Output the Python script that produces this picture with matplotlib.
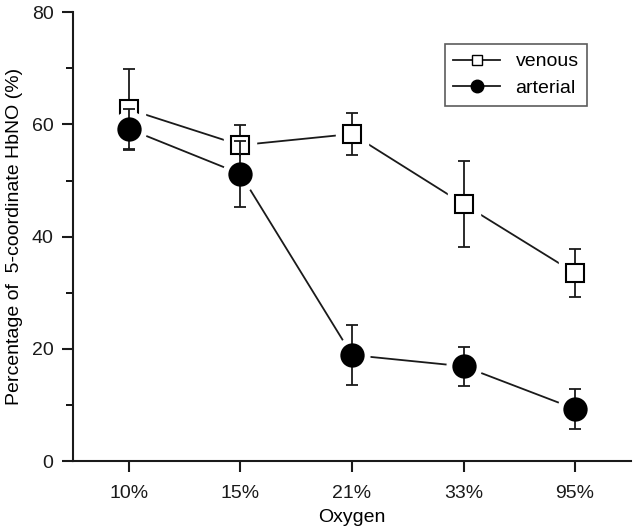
import matplotlib
matplotlib.use("Agg")
import matplotlib.pyplot as plt
import numpy as np
from matplotlib.lines import Line2D

plt.rcParams['font.family'] = ['Liberation Sans', 'DejaVu Sans']

categories = ["10%", "15%", "21%", "33%", "95%"]
venous = [62.7, 56.3, 58.3, 45.8, 33.5]
venous_err = [7.2, 3.6, 3.8, 7.6, 4.3]
arterial = [59.2, 51.2, 18.9, 16.9, 9.3]
arterial_err = [3.5, 5.9, 5.4, 3.5, 3.5]

x = np.arange(len(categories))

fig = plt.figure(figsize=(6.36, 5.30), dpi=100)
ax = fig.add_axes([0.1148, 0.130, 0.8772, 0.847])

lc = '#1a1a1a'

def draw(vals, errs, marker, ms, mfc, zbase):
    ax.plot(x, vals, '-', color=lc, lw=1.3, zorder=zbase)
    ax.plot(x, vals, linestyle='none', marker=marker, ms=ms + 9, mfc='white',
            mec='white', zorder=zbase + 0.1)
    ax.errorbar(x, vals, yerr=errs, fmt='none', ecolor=lc, elinewidth=1.3,
                capsize=4.5, capthick=1.3, zorder=zbase + 0.2)
    ax.plot(x, vals, linestyle='none', marker=marker, ms=ms, mfc=mfc,
            mec='black', mew=1.5, zorder=zbase + 0.3)

draw(venous, venous_err, 's', 13.5, 'white', 2)
draw(arterial, arterial_err, 'o', 16, 'black', 3)

h1 = Line2D([], [], color=lc, lw=1.3, marker='s', ms=7, mfc='white', mec='black', mew=1.0)
h2 = Line2D([], [], color=lc, lw=1.3, marker='o', ms=9, mfc='black', mec='black')
leg = ax.legend([h1, h2], ['venous', 'arterial'], loc='upper right',
                bbox_to_anchor=(0.922, 0.929), borderaxespad=0, fontsize=14,
                frameon=True, fancybox=False, edgecolor='#333333',
                handlelength=2.4, handletextpad=0.8, borderpad=0.45,
                labelspacing=0.45)
leg.get_frame().set_linewidth(1.2)

ax.set_xlim(-0.5, 4.5)
ax.set_ylim(0, 80)
ax.set_xticks(x)
ax.set_xticklabels(categories)
ax.set_yticks([0, 20, 40, 60, 80])
ax.set_yticks([10, 30, 50, 70], minor=True)

for s in ['top', 'right']:
    ax.spines[s].set_visible(False)
for s in ['left', 'bottom']:
    ax.spines[s].set_linewidth(1.5)
    ax.spines[s].set_color('#1a1a1a')

ax.tick_params(axis='both', which='major', direction='out', length=8, width=1.5,
               labelsize=14, colors='#1a1a1a', pad=6)
ax.tick_params(axis='y', which='minor', direction='out', length=5, width=1.3)
ax.tick_params(axis='x', pad=9)

ax.set_xlabel('Oxygen', fontsize=14, labelpad=5)
ax.set_ylabel('Percentage of  5-coordinate HbNO (%)', fontsize=14, labelpad=6)

fig.savefig('out.png', dpi=100)
